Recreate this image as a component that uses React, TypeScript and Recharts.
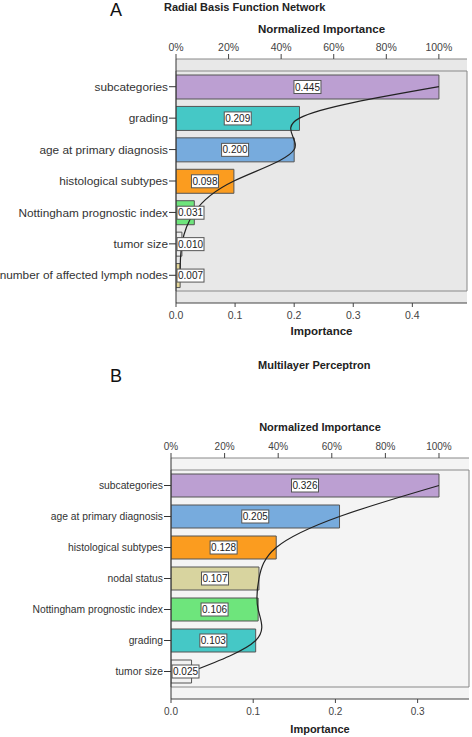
import React from "react";
import {
  ComposedChart,
  Bar,
  Line,
  XAxis,
  YAxis,
  Cell,
  LabelList,
  Label,
  CartesianGrid,
  ReferenceArea,
} from "recharts";

const rbfCategories = [
  "subcategories",
  "grading",
  "age at primary diagnosis",
  "histological subtypes",
  "Nottingham prognostic index",
  "tumor size",
  "number of affected lymph nodes",
];
const rbfImportance = [0.445, 0.209, 0.2, 0.098, 0.031, 0.01, 0.007];
const rbfColors = ["#bc9fd2", "#45c8c6", "#77abdd", "#fb9c1f", "#6ee57c", "#eeeeee", "#e3d69a"];

const mlpCategories = [
  "subcategories",
  "age at primary diagnosis",
  "histological subtypes",
  "nodal status",
  "Nottingham prognostic index",
  "grading",
  "tumor size",
];
const mlpImportance = [0.326, 0.205, 0.128, 0.107, 0.106, 0.103, 0.025];
const mlpColors = ["#bc9fd2", "#77abdd", "#fb9c1f", "#d8d49f", "#6ee57c", "#45c8c6", "#f2f2f2"];

const pctTicks = [0, 20, 40, 60, 80, 100];

const FONT = "'Liberation Sans', Arial, sans-serif";

function ValueBox(props: any) {
  const { x, y, width, height, value } = props;
  const bw = 27;
  const bh = 13;
  const cx = Math.max(x + width / 2, x + 1 + bw / 2);
  const cy = y + height / 2;
  return (
    <g>
      <rect x={cx - bw / 2} y={cy - bh / 2} width={bw} height={bh} fill="#fff" stroke="#555" strokeWidth={1} />
      <text x={cx} y={cy + 3.6} textAnchor="middle" fontSize={10} fill="#222" fontFamily={FONT}>
        {Number(value).toFixed(3)}
      </text>
    </g>
  );
}

// plain one-line category tick, no wrapping
function CatTick(props: any) {
  const { x, y, payload, fontSize } = props;
  return (
    <text x={x} y={y} dy="0.35em" textAnchor="end" fontSize={fontSize} fill="#333" fontFamily={FONT}>
      {payload.value}
    </text>
  );
}

interface PanelProps {
  categories: string[];
  values: number[];
  colors: string[];
  width: number;
  height: number;
  maxImp: number;
  maxPct: number;
  impTicks: number[];
  margin: { top: number; right: number; left: number; bottom: number };
  topH: number;
  bottomH: number;
  yWidth: number;
  catFont: number;
  tickFont: number;
  titleFont: number;
  barSize: number;
  bg: string;
  topLabelOffset: number;
  bottomLabelOffset: number;
}

function Panel(p: PanelProps) {
  const data = p.categories.map((c, i) => ({ name: c, value: p.values[i] }));
  return (
    <ComposedChart
      width={p.width}
      height={p.height}
      data={data}
      layout="vertical"
      margin={p.margin}
      style={{ fontFamily: FONT }}
    >
      <CartesianGrid horizontal={false} vertical={false} fill={p.bg} xAxisId="imp" />
      <XAxis
        xAxisId="pct"
        orientation="top"
        type="number"
        domain={[0, p.maxPct]}
        ticks={pctTicks}
        allowDataOverflow
        tickFormatter={(v) => `${v}%`}
        height={p.topH}
        tickSize={5}
        tickMargin={3}
        tick={{ fontSize: p.tickFont, fill: "#444" }}
        axisLine={{ stroke: "#888" }}
        tickLine={{ stroke: "#444" }}
      >
        <Label
          value="Normalized Importance"
          position="insideTop"
          offset={p.topLabelOffset}
          style={{ fontWeight: "bold", fontSize: p.titleFont, fill: "#222" }}
        />
      </XAxis>
      <XAxis
        xAxisId="imp"
        type="number"
        domain={[0, p.maxImp]}
        ticks={p.impTicks}
        allowDataOverflow
        tickFormatter={(v) => Number(v).toFixed(1)}
        height={p.bottomH}
        tickSize={4}
        tickMargin={5}
        tick={{ fontSize: p.tickFont, fill: "#444" }}
        axisLine={{ stroke: "#444" }}
        tickLine={{ stroke: "#444" }}
      >
        <Label
          value="Importance"
          position="insideBottom"
          offset={p.bottomLabelOffset}
          style={{ fontWeight: "bold", fontSize: p.titleFont, fill: "#222" }}
        />
      </XAxis>
      <YAxis
        type="category"
        dataKey="name"
        width={p.yWidth}
        padding={{ top: 12, bottom: 12 }}
        tickSize={7}
        tickMargin={1}
        interval={0}
        tick={<CatTick fontSize={p.catFont} />}
        axisLine={{ stroke: "#333" }}
        tickLine={{ stroke: "#333" }}
      />
      <ReferenceArea xAxisId="imp" x1={0} x2={p.maxImp} fill="none" stroke="#888" ifOverflow="visible" />
      <Bar xAxisId="imp" dataKey="value" barSize={p.barSize} stroke="#555" strokeWidth={1} isAnimationActive={false}>
        {data.map((d, i) => (
          <Cell key={d.name} fill={p.colors[i]} />
        ))}
        <LabelList dataKey="value" content={<ValueBox />} />
      </Bar>
      <Line
        xAxisId="imp"
        dataKey="value"
        type="natural"
        stroke="#222"
        strokeWidth={1.2}
        dot={false}
        isAnimationActive={false}
      />
    </ComposedChart>
  );
}

const letterStyle: React.CSSProperties = { position: "absolute", left: 110, fontSize: 18, lineHeight: 1, color: "#111" };
const titleStyle: React.CSSProperties = {
  position: "absolute",
  fontSize: 11,
  lineHeight: 1,
  fontWeight: "bold",
  color: "#222",
  whiteSpace: "nowrap",
};

export default function App() {
  return (
    <div style={{ position: "absolute", left: 0, top: 0, width: 472, height: 737, background: "#fff", fontFamily: FONT }}>
      <div style={{ position: "absolute", left: 0, top: 0 }}>
        <Panel
          categories={rbfCategories}
          values={rbfImportance}
          colors={rbfColors}
          width={472}
          height={345}
          maxImp={0.4925}
          maxPct={110.7}
          impTicks={[0, 0.1, 0.2, 0.3, 0.4]}
          margin={{ top: 0, right: 5, left: 0, bottom: 0 }}
          topH={59}
          bottomH={42}
          yWidth={176}
          catFont={11.8}
          tickFont={10.5}
          titleFont={11.5}
          barSize={24}
          bg="#e8e8e8"
          topLabelOffset={25}
          bottomLabelOffset={10}
        />
      </div>
      <div style={{ ...letterStyle, top: 1 }}>A</div>
      <div style={{ ...titleStyle, left: 164, top: 1.5 }}>Radial Basis Function Network</div>
      <div style={{ position: "absolute", left: 0, top: 360 }}>
        <Panel
          categories={mlpCategories}
          values={mlpImportance}
          colors={mlpColors}
          width={472}
          height={377}
          maxImp={0.3625}
          maxPct={111.2}
          impTicks={[0, 0.1, 0.2, 0.3]}
          margin={{ top: 0, right: 3, left: 0, bottom: 0 }}
          topH={98}
          bottomH={38}
          yWidth={171}
          catFont={10.3}
          tickFont={10}
          titleFont={11}
          barSize={23}
          bg="#f4f4f4"
          topLabelOffset={63}
          bottomLabelOffset={4}
        />
      </div>
      <div style={{ ...letterStyle, top: 366.5 }}>B</div>
      <div style={{ ...titleStyle, left: 258, top: 360.3 }}>Multilayer Perceptron</div>
    </div>
  );
}
